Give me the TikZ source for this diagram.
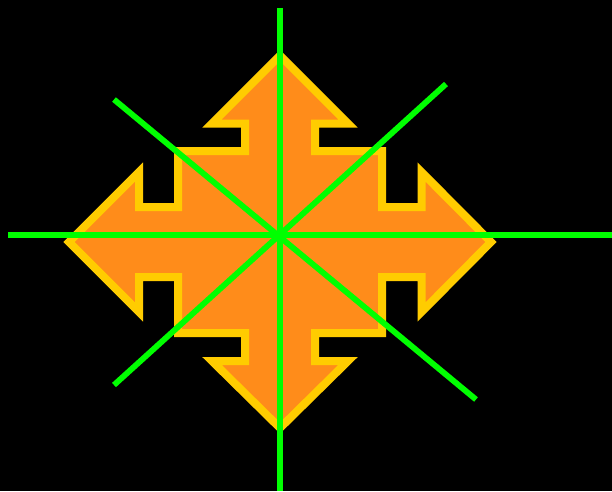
\documentclass[tikz,border=0pt]{standalone}
\begin{document}
\begin{tikzpicture}[x=1pt,y=-1pt,
  crossshape/.style={fill=crossorange,draw=crossyellow,line width=8pt,line join=miter,miter limit=20},
  axisline/.style={draw=axisgreen,line width=5.8pt}]
\definecolor{crossorange}{RGB}{255,140,26}
\definecolor{crossyellow}{RGB}{255,204,0}
\definecolor{axisgreen}{RGB}{0,255,0}
\fill[black] (0,0) rectangle (612,491);
\useasboundingbox (0,0) rectangle (612,491);
\draw[crossshape] (280,55.5) -- (348,123.5) -- (315,123.5) -- (315,151) -- (382,151) -- (382,207)
  -- (421.5,207) -- (421.5,172) -- (491,242) -- (421.5,312) -- (421.5,277) -- (382,277)
  -- (382,333) -- (315,333) -- (315,361) -- (348,361) -- (280,428) -- (212,361) -- (245,361)
  -- (245,333) -- (178,333) -- (178,277) -- (139,277) -- (139,312) -- (69,242) -- (139,172)
  -- (139,207) -- (178,207) -- (178,151) -- (245,151) -- (245,123.5) -- (212,123.5) -- cycle;
\coordinate (vt) at (280,8);
\coordinate (vb) at (280,491);
\coordinate (hl) at (8,235);
\coordinate (hr) at (612,235);
\coordinate (dul) at (114,99.5);
\coordinate (dlr) at (476,399.5);
\coordinate (dur) at (446,84);
\coordinate (dll) at (114,385);
\draw[axisline] (vt) -- (vb);
\draw[axisline] (hl) -- (hr);
\draw[axisline] (dul) -- (dlr);
\draw[axisline] (dur) -- (dll);
\end{tikzpicture}
\end{document}
